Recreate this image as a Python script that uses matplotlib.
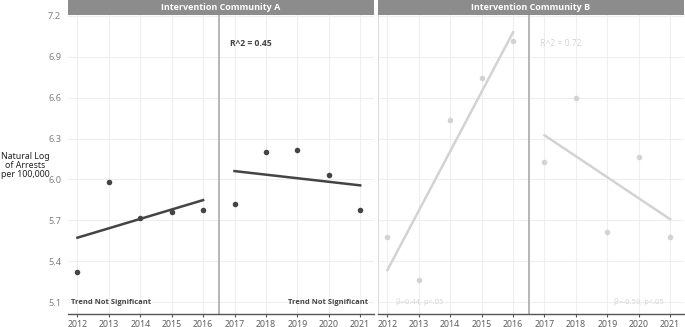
import numpy as np
import matplotlib
matplotlib.use("Agg")
import matplotlib.pyplot as plt

plt.rcParams['font.family'] = ['Noto Sans', 'DejaVu Sans']

years_pre = [2012, 2013, 2014, 2015, 2016]
years_post = [2017, 2018, 2019, 2020, 2021]

# natural log of arrests per 100,000
comm_a_pre = [5.32, 5.98, 5.715, 5.762, 5.774]
comm_a_post = [5.823, 6.20, 6.214, 6.03, 5.777]
comm_b_pre = [5.58, 5.258, 6.435, 6.743, 7.02]
comm_b_post = [6.131, 6.595, 5.614, 6.165, 5.575]

titles = ["Intervention Community A", "Intervention Community B"]
r2_labels = ["R^2 = 0.45", "R^2 = 0.72"]
pre_labels = ["Trend Not Significant", "\u03b2=0.44, p<.05"]
post_labels = ["Trend Not Significant", "\u03b2=-0.59, p<.05"]
yticks = [5.1, 5.4, 5.7, 6.0, 6.3, 6.6, 6.9, 7.2]
xticks = list(range(2012, 2022))

bold_font = ['Open Sans', 'DejaVu Sans']

fig = plt.figure(figsize=(6.85, 3.27), dpi=100)

panels = [
    (0.0993, 0.4467, comm_a_pre, comm_a_post, "#444444", True),
    (0.5518, 0.4467, comm_b_pre, comm_b_post, "#d3d3d3", False),
]

for i, (left, width, pre, post, col, bold) in enumerate(panels):
    ax = fig.add_axes([left, 0.0398, width, 0.9142])
    ax.set_xlim(2011.7, 2021.44)
    ax.set_ylim(5.012, 7.207)
    ax.set_xticks(xticks)
    ax.set_yticks(yticks)
    ax.grid(True, color="#efefef", linewidth=0.8)
    ax.set_axisbelow(True)
    for s in ["top", "right", "left"]:
        ax.spines[s].set_visible(False)
    ax.spines["bottom"].set_color("#555555")
    ax.spines["bottom"].set_linewidth(1.0)
    if i == 1:
        ax.spines["left"].set_visible(True)
        ax.spines["left"].set_color("#dddddd")
        ax.tick_params(axis="y", labelleft=False)
    ax.tick_params(axis="y", length=0, pad=5, labelsize=6.6, labelcolor="#808080")
    ax.tick_params(axis="x", length=2, width=0.8, color="#555555", pad=2,
                   labelsize=6.4, labelcolor="#606060")
    ax.set_yticklabels([f"{v:.1f}" for v in yticks])

    ax.axvline(2016.5, color="#b5b5b5", linewidth=1.4)

    for xs, ys in [(years_pre, pre), (years_post, post)]:
        ax.scatter(xs, ys, s=16, color=col, zorder=3, linewidths=0)
        k, b = np.polyfit(xs, ys, 1)
        ax.plot([xs[0], xs[-1]], [k * xs[0] + b, k * xs[-1] + b],
                color=col, linewidth=1.8, zorder=2)

    weight = "bold" if bold else "normal"
    ax.text(2016.87, 7.0, r2_labels[i], fontsize=6.2, color=col, family=bold_font,
            fontweight=weight, va="center", ha="left")
    ax.text(2011.78 if i == 0 else 2012.27, 5.1, pre_labels[i], fontsize=5.4,
            color=col, fontweight=weight, family=bold_font, va="center", ha="left")
    ax.text(2021.26 if i == 0 else 2020.8, 5.1, post_labels[i], fontsize=5.4,
            color=col, fontweight=weight, family=bold_font, va="center", ha="right")

    # strip header
    sx = fig.add_axes([left, 0.954, width, 0.046])
    sx.set_facecolor("#8c8c8c")
    sx.set_xticks([])
    sx.set_yticks([])
    for s in sx.spines.values():
        s.set_visible(False)
    sx.text(0.5, 0.5, titles[i], color="white", fontsize=6.5, fontweight="bold",
            family=bold_font, ha="center", va="center", transform=sx.transAxes)

fig.text(0.0365, 0.495, "Natural Log\nof Arrests\nper 100,000", ha="center",
         va="center", fontsize=6.3, color="#222222", linespacing=1.0)

fig.savefig("out.png", dpi=100)
